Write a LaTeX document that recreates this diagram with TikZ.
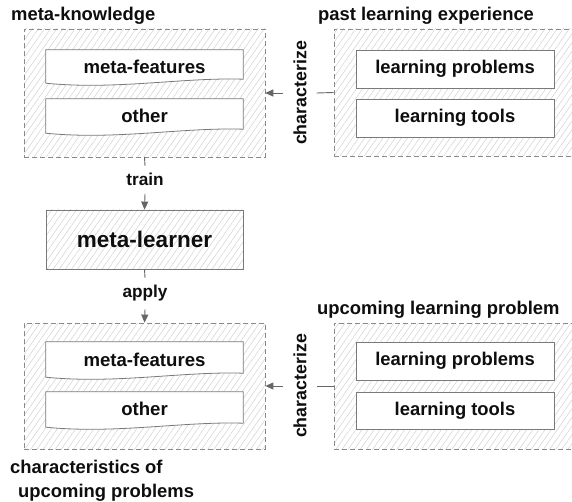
\documentclass[tikz,border=0pt]{standalone}
\usepackage{fontspec}
\setmainfont{Liberation Sans}
\usetikzlibrary{arrows.meta,patterns.meta,calc}
\definecolor{txt}{HTML}{0E0E0E}
\definecolor{grpline}{HTML}{8A8A8A}
\definecolor{boxline}{HTML}{7A7A7A}
\definecolor{arr}{HTML}{666666}
\definecolor{hatch}{HTML}{D2D2D2}
\tikzset{
  hatched/.style={pattern={Lines[angle=55,distance=5pt,line width=0.5pt]},pattern color=hatch},
  group/.style={draw=grpline,line width=0.8pt,dash pattern=on 5pt off 3pt,hatched,inner sep=0pt},
  plainbox/.style={draw=boxline,line width=0.8pt,fill=white,inner sep=0pt,minimum width=198pt,
     font=\fontsize{18.4}{20}\selectfont\bfseries,text=txt},
  docnode/.style={inner sep=0pt,minimum width=197pt,font=\fontsize{18.6}{20}\selectfont\bfseries,text=txt},
  docbox/.style={draw=boxline,line width=0.8pt,fill=white},
  title/.style={inner sep=0pt,font=\fontsize{18.4}{24}\selectfont\bfseries,text=txt},
  flowlabel/.style={inner xsep=0pt,inner ysep=7.5pt,font=\fontsize{17.2}{20}\selectfont\bfseries,text=txt},
  charlabel/.style={rotate=90,inner xsep=0pt,inner ysep=10pt,font=\fontsize{17.8}{20}\selectfont\bfseries,text=txt},
  conn/.style={draw=arr,line width=0.9pt},
  arrow/.style={conn,-{Triangle[length=8pt,width=7pt]}},
}
\begin{document}
\begin{tikzpicture}[x=1pt,y=-1pt]
\clip (0,0) rectangle (572,502);
\fill[white] (0,0) rectangle (572,502);

% group boxes
\node[group,minimum width=241pt,minimum height=128pt] (mk) at (144.5,93) {};
\node[group,minimum width=270pt,minimum height=127pt] (past) at (469,92.5) {};
\node[group,minimum width=241pt,minimum height=126pt] (chars) at (144.5,386) {};
\node[group,minimum width=270pt,minimum height=126pt] (up) at (469,386) {};

% titles
\node[title,anchor=base west] (tmk) at (11,21) {meta-knowledge};
\node[title,anchor=base west] (tpast) at (318,21) {past learning experience};
\node[title,anchor=base west] (tup) at (317,314) {upcoming learning problem};
\node[title,anchor=base west,align=left] (tchars) at (10,497) {characteristics of\\\hspace*{8pt}upcoming problems};

% document boxes (meta-features / other)
\node[docnode,minimum height=33pt] (mf1) at (144.5,66.5) {};
\draw[docbox] (mf1.north west) -- (mf1.north east) -- ($(mf1.south east)+(0,-4)$)
   .. controls ($(mf1.south east)+(-60,-6)$) and ($(mf1.south west)+(70,7)$) .. (mf1.south west) -- cycle;
\node[docnode] at ($(mf1.center)+(0,0.5)$) {meta-features};

\node[docnode,minimum height=34pt] (ot1) at (144.5,116) {};
\draw[docbox] (ot1.north west) -- (ot1.north east) -- ($(ot1.south east)+(0,-4)$)
   .. controls ($(ot1.south east)+(-60,-6)$) and ($(ot1.south west)+(70,7)$) .. (ot1.south west) -- cycle;
\node[docnode] at ($(ot1.center)+(0,0)$) {other};

\node[docnode,minimum height=35pt] (mf2) at (144.5,359.5) {};
\draw[docbox] (mf2.north west) -- (mf2.north east) -- ($(mf2.south east)+(0,-4)$)
   .. controls ($(mf2.south east)+(-60,-6)$) and ($(mf2.south west)+(70,7)$) .. (mf2.south west) -- cycle;
\node[docnode] at ($(mf2.center)+(0,0)$) {meta-features};

\node[docnode,minimum height=35pt] (ot2) at (144.5,409.5) {};
\draw[docbox] (ot2.north west) -- (ot2.north east) -- ($(ot2.south east)+(0,-4)$)
   .. controls ($(ot2.south east)+(-60,-6)$) and ($(ot2.south west)+(70,7)$) .. (ot2.south west) -- cycle;
\node[docnode] at ($(ot2.center)+(0,-1)$) {other};

% plain boxes on the right
\node[plainbox,minimum height=38pt] (lp1) at (455,69) {learning problems};
\node[plainbox,minimum height=38pt] (lt1) at (455,118) {learning tools};
\node[plainbox,minimum height=38pt] (lp2) at (455,361) {learning problems};
\node[plainbox,minimum height=37pt] (lt2) at (455,410.5) {learning tools};

% meta-learner
\node[draw=boxline,line width=0.8pt,hatched,minimum width=197pt,minimum height=59pt,inner sep=0pt,
      font=\fontsize{22.5}{24}\selectfont\bfseries,text=txt] (ml) at (144.5,239.5) {meta-learner};

% flow labels
\node[flowlabel,anchor=base] (train) at (145,186) {train};
\node[flowlabel,anchor=base] (apply) at (145,298) {apply};
\node[charlabel] (char1) at (300,93) {characterize};
\node[charlabel] (char2) at (300,386) {characterize};

% connectors
\draw[conn] (mk.south) -- (train.north);
\draw[arrow] (train.south) -- (ml.north);
\draw[conn] (ml.south) -- (apply.north);
\draw[arrow] (apply.south) -- (chars.north);
\draw[conn] (past.west) -- (char1.south);
\draw[arrow] (char1.north) -- (mk.east);
\draw[conn] (up.west) -- (char2.south);
\draw[arrow] (char2.north) -- (chars.east);
\end{tikzpicture}
\end{document}
